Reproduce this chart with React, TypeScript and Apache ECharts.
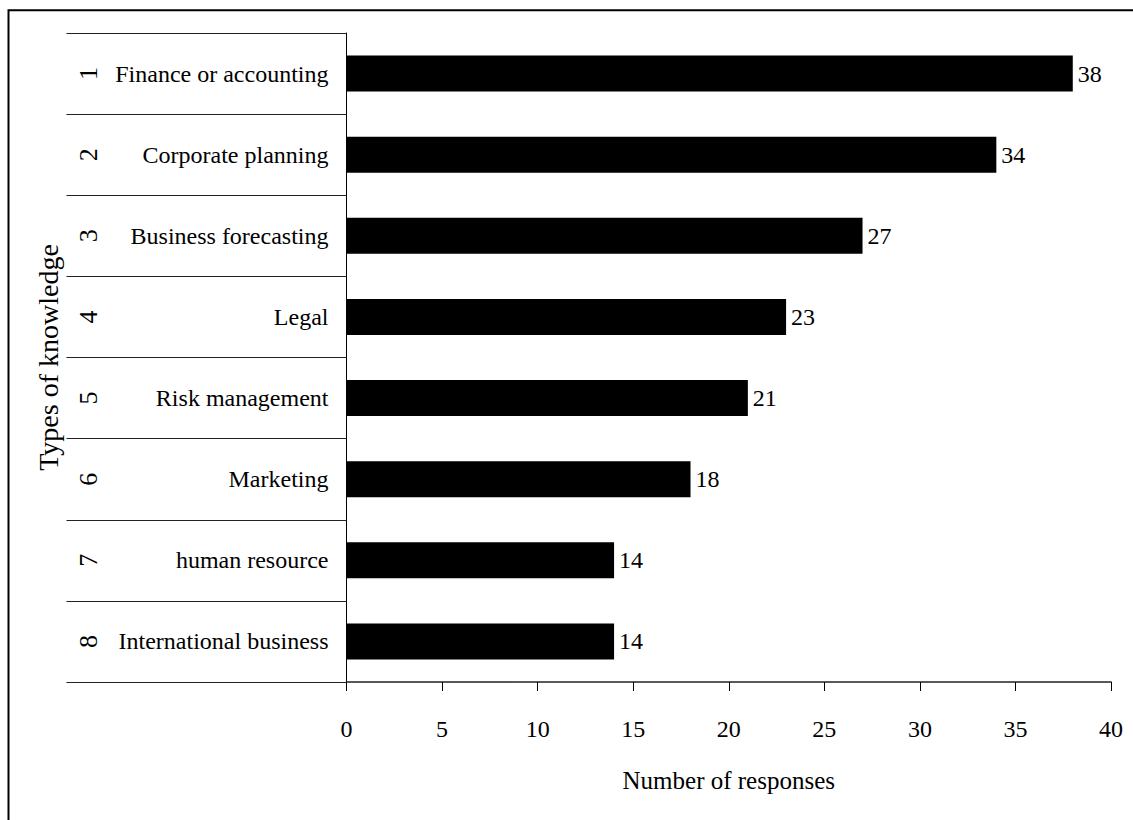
import React, { useEffect, useRef } from "react";
import * as echarts from "echarts";

const categories = [
  "Finance or accounting",
  "Corporate planning",
  "Business forecasting",
  "Legal",
  "Risk management",
  "Marketing",
  "human resource",
  "International business",
];
const categoryNumbers = ["1", "2", "3", "4", "5", "6", "7", "8"];
const responses = [38, 34, 27, 23, 21, 18, 14, 14];
const xMin = 0;
const xMax = 40;
const xInterval = 5;

const FONT = "'Liberation Serif', 'Times New Roman', serif";

export default function App() {
  const ref = useRef<HTMLDivElement>(null);

  useEffect(() => {
    if (!ref.current) return;
    const chart = echarts.init(ref.current, undefined, { renderer: "svg" });
    chart.setOption({
      animation: false,
      backgroundColor: "#fff",
      textStyle: { fontFamily: FONT, color: "#000" },
      grid: { left: 346.5, right: 22, top: 33, bottom: 138, containLabel: false },
      graphic: [
        {
          type: "rect",
          shape: { x: 8.5, y: 10.3, width: 1300, height: 1000 },
          style: { fill: "none", stroke: "#000", lineWidth: 2 },
          silent: true,
        },
      ],
      xAxis: {
        type: "value",
        min: xMin,
        max: xMax,
        interval: xInterval,
        name: "Number of responses",
        nameLocation: "middle",
        nameGap: 86,
        nameTextStyle: { fontFamily: FONT, fontSize: 25, color: "#000" },
        axisLine: { show: true, lineStyle: { color: "#222", width: 1.5 } },
        axisTick: { show: true, length: 9, lineStyle: { color: "#000", width: 1 } },
        axisLabel: { fontFamily: FONT, fontSize: 24, color: "#000", margin: 35 },
        splitLine: { show: false },
      },
      yAxis: [
        {
          type: "category",
          inverse: true,
          data: categories,
          position: "left",
          name: "Types of knowledge",
          nameLocation: "middle",
          nameGap: 284,
          nameTextStyle: { fontFamily: FONT, fontSize: 28, color: "#000" },
          axisLine: { show: true, lineStyle: { color: "#000", width: 1 } },
          axisTick: {
            show: true,
            length: 280,
            alignWithLabel: false,
            lineStyle: { color: "#222", width: 1.2 },
          },
          axisLabel: { fontFamily: FONT, fontSize: 24, color: "#000", margin: 18 },
          splitLine: { show: false },
        },
        {
          type: "category",
          inverse: true,
          data: categoryNumbers,
          position: "left",
          offset: 0,
          axisLine: { show: false },
          axisTick: { show: false },
          axisLabel: {
            fontFamily: FONT,
            fontSize: 26,
            color: "#000",
            rotate: 90,
            align: "center",
            verticalAlign: "middle",
            margin: 258,
          },
          splitLine: { show: false },
        },
      ],
      series: [
        {
          type: "bar",
          yAxisIndex: 0,
          data: responses,
          barWidth: 36,
          itemStyle: { color: "#000" },
          label: {
            show: true,
            position: "right",
            distance: 5,
            fontFamily: FONT,
            fontSize: 24,
            color: "#000",
          },
        },
      ],
    });
    return () => chart.dispose();
  }, []);

  return (
    <div
      ref={ref}
      style={{ position: "absolute", left: 0, top: 0, width: 1133, height: 820 }}
    />
  );
}
